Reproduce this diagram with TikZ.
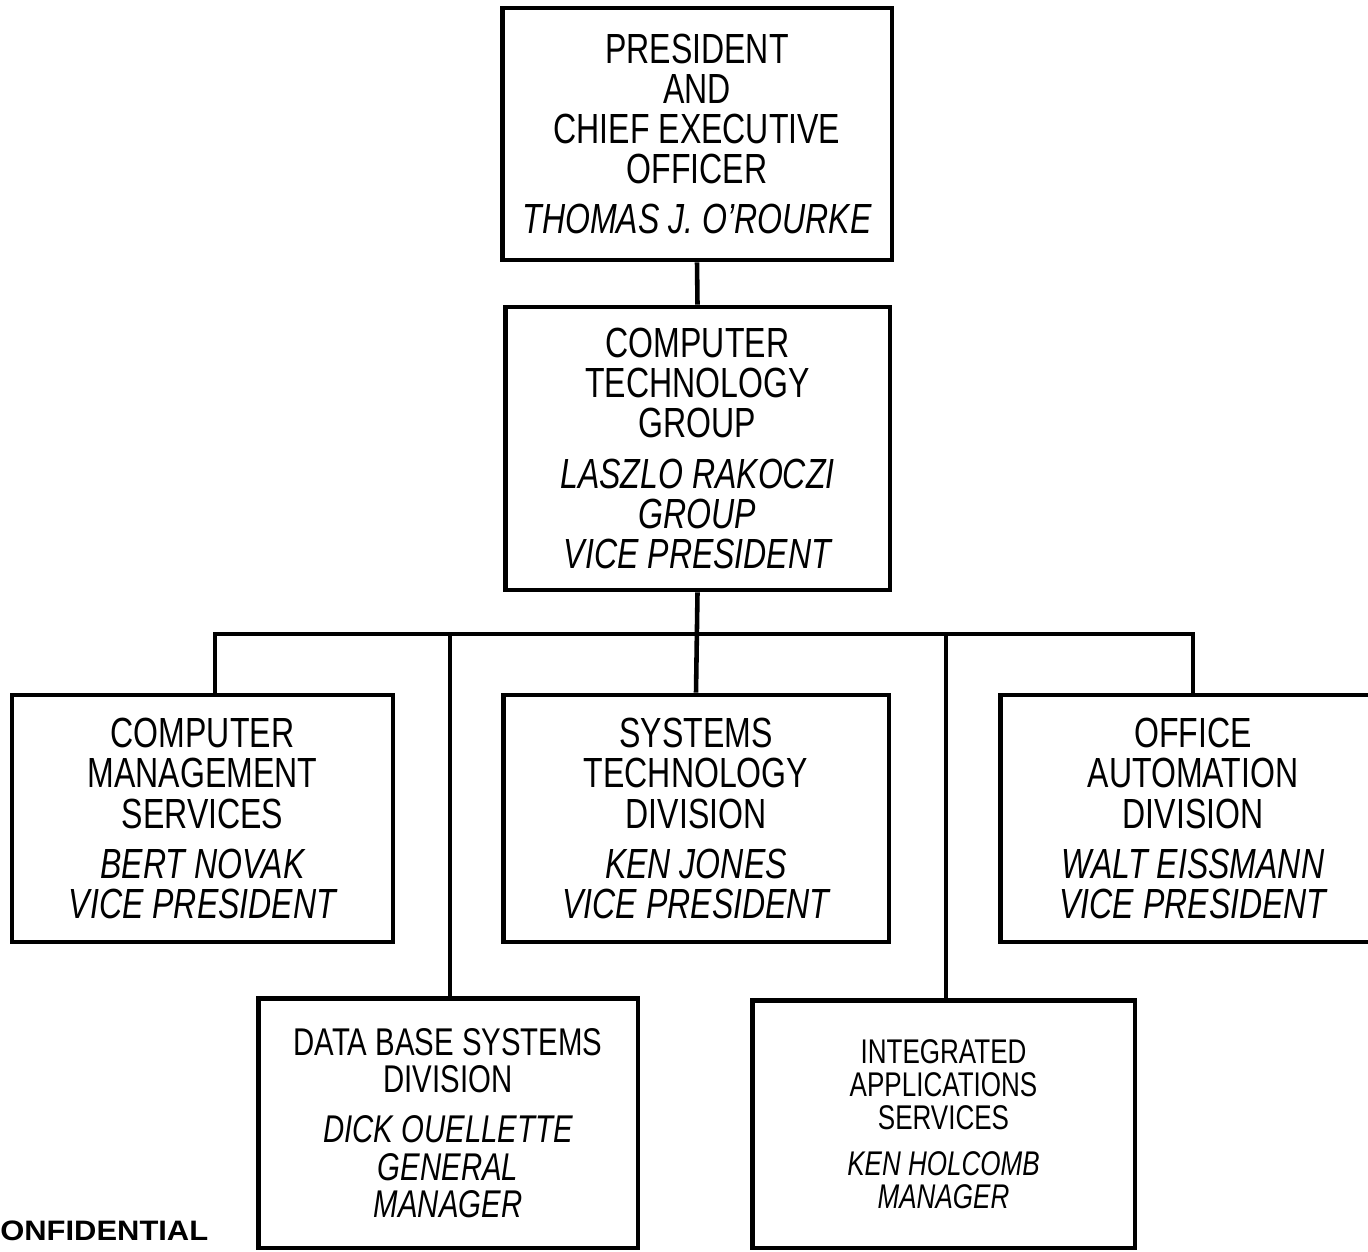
\documentclass[tikz,border=0pt]{standalone}
\usepackage{fontspec}
\setmainfont{Liberation Sans}[FakeStretch=0.76]
\newfontfamily\stampfont{Liberation Sans}[FakeStretch=1.1]
\usetikzlibrary{positioning}

\newcommand\unitfont{\fontsize{24}{22.8}\selectfont}
\newcommand\midunitfont{\fontsize{22}{21.2}\selectfont}
\newcommand\lowunitfont{\fontsize{19.5}{18.8}\selectfont}

\begin{document}
\begin{tikzpicture}[x=0.02cm, y=-0.02cm,
  org box/.style = {
    draw, line width=2.8pt, align=center, inner sep=0pt,
    font=\unitfont,
  },
  org line/.style = {line width=2.6pt}]
  \useasboundingbox (0,0) rectangle (1368,1251);
  \clip (0,0) rectangle (1368,1251);

  % top of the chart
  \node[org box, minimum width=7.8cm, minimum height=5.04cm] (pres) at (697,134)
    {PRESIDENT\\AND\\CHIEF EXECUTIVE\\OFFICER\\[0.2cm]
     \itshape THOMAS J. O'ROURKE};
  \node[org box, minimum width=7.7cm, minimum height=5.66cm] (ctg) at (697.5,448.5)
    {COMPUTER\\TECHNOLOGY\\GROUP\\[0.2cm]
     \itshape LASZLO RAKOCZI\\\itshape GROUP\\\itshape VICE PRESIDENT};

  % divisions
  \node[org box, minimum width=7.62cm, minimum height=4.94cm] (cms) at (202.5,818.5)
    {COMPUTER\\MANAGEMENT\\SERVICES\\[0.2cm]
     \itshape BERT NOVAK\\\itshape VICE PRESIDENT};
  \node[org box, minimum width=7.72cm, minimum height=4.94cm] (std) at (696,818.5)
    {SYSTEMS\\TECHNOLOGY\\DIVISION\\[0.2cm]
     \itshape KEN JONES\\\itshape VICE PRESIDENT};
  \node[org box, minimum width=7.72cm, minimum height=4.94cm] (oad) at (1193,818.5)
    {OFFICE\\AUTOMATION\\DIVISION\\[0.2cm]
     \itshape WALT EISSMANN\\\itshape VICE PRESIDENT};
  \node[org box, font=\midunitfont, minimum width=7.6cm, minimum height=5cm] (dbs) at (448,1123)
    {DATA BASE SYSTEMS\\DIVISION\\[0.26cm]
     \itshape DICK OUELLETTE\\\itshape GENERAL\\\itshape MANAGER};
  \node[org box, font=\lowunitfont, minimum width=7.66cm, minimum height=4.96cm] (ias) at (943.5,1124)
    {INTEGRATED\\APPLICATIONS\\SERVICES\\[0.26cm]
     \itshape KEN HOLCOMB\\\itshape MANAGER};

  \node[anchor=base west, inner sep=0pt, font=\stampfont\bfseries\fontsize{16}{18}\selectfont]
    (stamp) at (0,1240) {ONFIDENTIAL};

  % connectors
  \coordinate (bus) at (697,634);
  \draw[org line] (pres.south) -- (ctg.north);
  \draw[org line] (ctg.south) -- (std.north);
  \draw[org line] ([xshift=0.25cm]cms.north) |- (bus) -| (oad.north);
  \draw[org line] ([xshift=0.04cm]dbs.north) |- (bus);
  \draw[org line] ([xshift=0.05cm]ias.north) |- (bus);
\end{tikzpicture}
\end{document}
